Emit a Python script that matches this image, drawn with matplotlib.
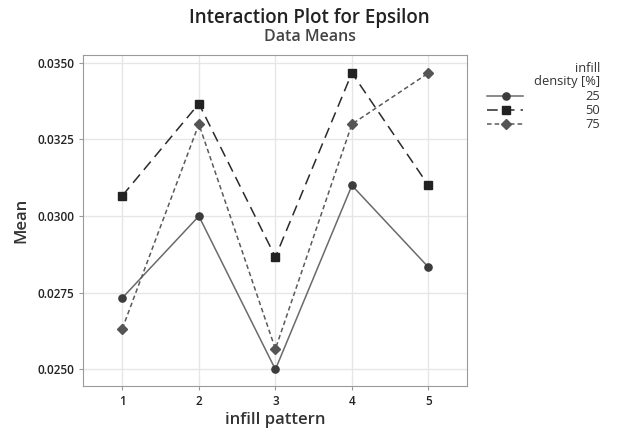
import matplotlib.pyplot as plt
from matplotlib.lines import Line2D

plt.rcParams['font.family'] = ['Open Sans', 'DejaVu Sans']

patterns = [1, 2, 3, 4, 5]
density_levels = ['25', '50', '75']
mean_25 = [0.027333, 0.0300, 0.0250, 0.0310, 0.028333]
mean_50 = [0.030667, 0.033667, 0.028667, 0.034667, 0.0310]
mean_75 = [0.026333, 0.0330, 0.025667, 0.0330, 0.034667]

styles = [
    dict(color='#6a6a6a', ls='-', marker='o', mfc='#3c3c3c', mec='#3c3c3c', ms=5.2),
    dict(color='#2a2a2a', ls=(0, (7, 4)), marker='s', mfc='#222222', mec='#222222', ms=5.2),
    dict(color='#5a5a5a', ls=(0, (3, 2)), marker='D', mfc='#555555', mec='#555555', ms=5),
]

fig = plt.figure(figsize=(6.19, 4.34), dpi=100)
ax = fig.add_axes([0.1346, 0.1106, 0.6194, 0.7624])

for vals, st in zip([mean_25, mean_50, mean_75], styles):
    ax.plot(patterns, vals, lw=1.1, **st)

ax.set_xlim(0.49, 5.5)
ax.set_ylim(0.02446, 0.03525)
ax.set_xticks(patterns)
ax.set_yticks([0.0250, 0.0275, 0.0300, 0.0325, 0.0350])
ax.set_yticklabels(['0.0250', '0.0275', '0.0300', '0.0325', '0.0350'])
ax.grid(True, color='#e6e6e6', lw=1)
ax.set_axisbelow(True)
for s in ax.spines.values():
    s.set_color('#9a9a9a')
ax.tick_params(colors='#9a9a9a', labelcolor='#222222', labelsize=8.5, length=3)
for lab in ax.get_xticklabels() + ax.get_yticklabels():
    lab.set_fontweight('semibold')

ax.set_xlabel('infill pattern', fontsize=12, color='#333333', fontweight='semibold',
              labelpad=3)
ax.set_ylabel('Mean', fontsize=12, color='#333333', fontweight='semibold', labelpad=6)

fig.text(0.5, 0.958, 'Interaction Plot for Epsilon', ha='center', va='center',
         fontsize=13.5, color='#222222', fontweight='semibold')
fig.text(0.5, 0.915, 'Data Means', ha='center', va='center',
         fontsize=11.5, color='#444444', fontweight='semibold')

# legend drawn by hand so labels sit right-aligned
fs_leg = 9.3
fig.text(0.970, 1 - 68 / 434, 'infill', ha='right', va='center', fontsize=fs_leg,
         color='#333333')
fig.text(0.970, 1 - 81 / 434, 'density [%]', ha='right', va='center', fontsize=fs_leg,
         color='#333333')
for i, (lab, st) in enumerate(zip(density_levels, styles)):
    y = 1 - (96 + 14 * i) / 434
    fig.add_artist(Line2D([487 / 619, 523 / 619], [y, y], lw=1.1,
                          color=st['color'], ls=st['ls'], transform=fig.transFigure))
    fig.add_artist(Line2D([506 / 619], [y], marker=st['marker'], ms=st['ms'],
                          mfc=st['mfc'], mec=st['mec'], ls='none', transform=fig.transFigure))
    fig.text(0.970, y, lab, ha='right', va='center', fontsize=fs_leg, color='#333333')

fig.savefig('out.png', dpi=100)
